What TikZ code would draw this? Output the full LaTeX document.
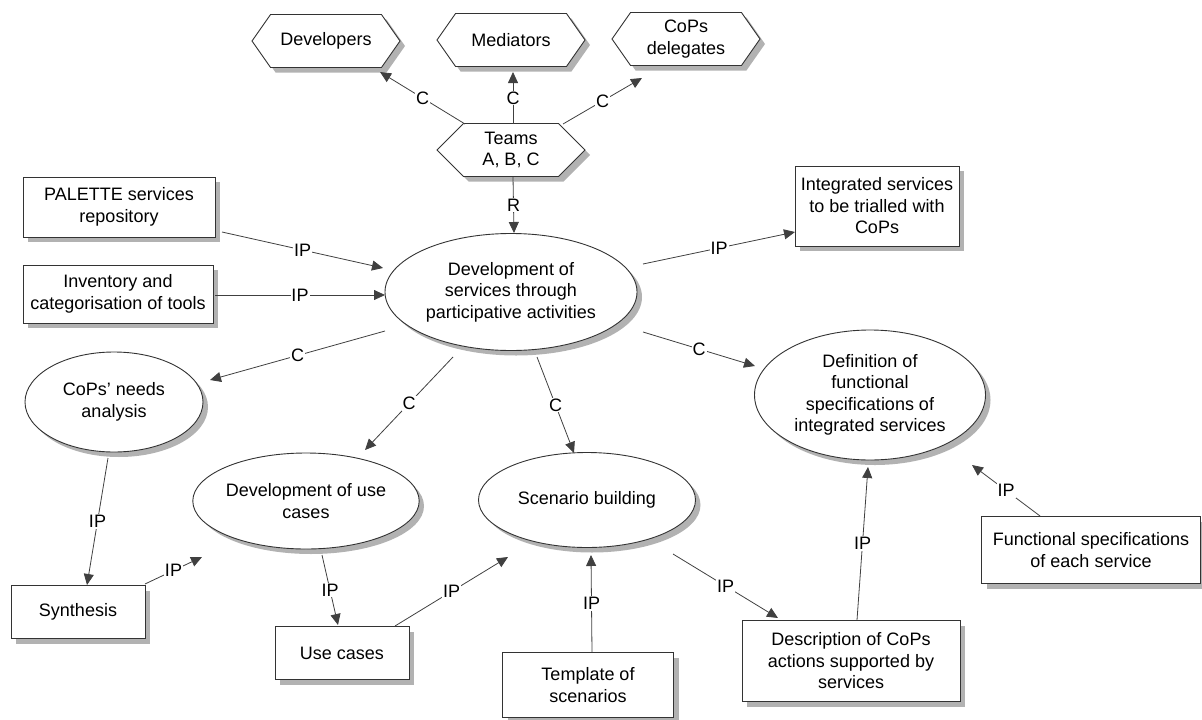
\documentclass[tikz,border=0pt]{standalone}
\usepackage{fontspec}
\setmainfont{Liberation Sans}
\usetikzlibrary{shapes.geometric,shapes.symbols,arrows.meta}
\definecolor{shadowc}{RGB}{178,178,178}
\begin{document}
\begin{tikzpicture}[x=1pt,y=-1pt,
 font=\fontsize{18}{21.5}\selectfont,
 box/.style={rectangle,draw=black!80,line width=0.9pt,fill=white,inner sep=0pt,align=center},
 ell/.style={ellipse,draw=black!80,line width=0.9pt,fill=white,inner sep=0pt,align=center},
 hex/.style={signal,signal to=east and west,signal pointer angle=110,draw=black!80,line width=0.9pt,fill=white,inner sep=0pt,align=center,minimum width=148pt,minimum height=53pt},
 shd/.style={fill=shadowc,draw=none},
 arr/.style={draw=black!75,line width=0.8pt,-{Triangle[length=11pt,width=10pt]}},
 lbl/.style={fill=white,inner sep=1pt}
]
\useasboundingbox (0,0) rectangle (1202,720);
% shadows (drawn first, offset down-right)
\node[hex,shd] at (331,46) {};
\node[hex,shd] at (516,45) {};
\node[hex,shd] at (691,44) {};
\node[hex,shd,signal pointer angle=90] at (516,155) {};
\node[box,shd,minimum width=192pt,minimum height=60pt] at (124,212) {};
\node[box,shd,minimum width=190pt,minimum height=58pt] at (123,299) {};
\node[box,shd,minimum width=164pt,minimum height=80pt] at (882,211) {};
\node[box,shd,minimum width=134pt,minimum height=53pt] at (83,617) {};
\node[box,shd,minimum width=134pt,minimum height=53pt] at (347,658) {};
\node[box,shd,minimum width=171pt,minimum height=65pt] at (593,690) {};
\node[box,shd,minimum width=218pt,minimum height=81pt] at (856,666) {};
\node[box,shd,minimum width=219pt,minimum height=67pt] at (1096,555) {};
\node[ell,shd,minimum width=252pt,minimum height=117pt] at (516,297) {};
\node[ell,shd,minimum width=178pt,minimum height=100pt] at (119,407) {};
\node[ell,shd,minimum width=226pt,minimum height=96pt] at (311,506) {};
\node[ell,shd,minimum width=217pt,minimum height=95pt] at (592,505) {};
\node[ell,shd,minimum width=231pt,minimum height=130pt] at (875,400) {};
% hexagons
\node[hex] (devs) at (326,41) {Developers};
\node[hex] (med) at (511,40) {Mediators};
\node[hex] (cops) at (686,39) {CoPs\\delegates};
\node[hex,signal pointer angle=90] (teams) at (511,150) {Teams\\A, B, C};
% boxes
\node[box,minimum width=192pt,minimum height=60pt] (pal) at (119,207) {PALETTE services\\repository};
\node[box,minimum width=190pt,minimum height=58pt] (inv) at (118,294) {Inventory and\\categorisation of tools};
\node[box,minimum width=164pt,minimum height=80pt] (integ) at (877,206) {Integrated services\\to be trialled with\\CoPs};
\node[box,minimum width=134pt,minimum height=53pt] (synth) at (78,612) {Synthesis};
\node[box,minimum width=134pt,minimum height=53pt] (usec) at (342,653) {Use cases};
\node[box,minimum width=171pt,minimum height=65pt] (templ) at (588,685) {Template of\\scenarios};
\node[box,minimum width=218pt,minimum height=81pt] (descr) at (851,661) {Description of CoPs\\actions supported by\\services};
\node[box,minimum width=219pt,minimum height=67pt] (funcs) at (1091,550) {Functional specifications\\of each service};
% ellipses
\node[ell,minimum width=252pt,minimum height=117pt] (dev) at (511,292) {Development of\\services through\\participative activities};
\node[ell,minimum width=178pt,minimum height=100pt] (needs) at (114,402) {CoPs' needs\\analysis};
\node[ell,minimum width=226pt,minimum height=96pt] (duc) at (306,501) {Development of use\\cases};
\node[ell,minimum width=217pt,minimum height=95pt] (scen) at (587,500) {Scenario building};
\node[ell,minimum width=231pt,minimum height=130pt] (defn) at (870,395) {Definition of\\functional\\specifications of\\integrated services};
% connectors
\draw[arr] ([shift={(-46,-26)}]teams.center) -- node[lbl]{C} ([shift={(54,31)}]devs.center);
\draw[arr] ([shift={(2,-26)}]teams.center) -- node[lbl]{C} ([shift={(2,32)}]med.center);
\draw[arr] ([shift={(52,-26)}]teams.center) -- node[lbl]{C} ([shift={(-44,39)}]cops.center);
\draw[arr] ([shift={(2,27)}]teams.center) -- node[lbl]{R} ([shift={(3,-59)}]dev.center);
\draw[arr] ([shift={(103,25)}]pal.center) -- node[lbl]{IP} ([shift={(-128,-24)}]dev.center);
\draw[arr] ([shift={(97,1)}]inv.center) -- node[lbl]{IP} ([shift={(-126,3)}]dev.center);
\draw[arr] ([shift={(132,-28)}]dev.center) -- node[lbl]{IP} ([shift={(-82,26)}]integ.center);
\draw[arr] ([shift={(-126,39)}]dev.center) -- node[lbl]{C} ([shift={(96,-22)}]needs.center);
\draw[arr] ([shift={(-58,65)}]dev.center) -- node[lbl]{C} ([shift={(59,-51)}]duc.center);
\draw[arr] ([shift={(26,65)}]dev.center) -- node[lbl]{C} ([shift={(-13,-47)}]scen.center);
\draw[arr] ([shift={(132,40)}]dev.center) -- node[lbl]{C} ([shift={(-115,-29)}]defn.center);
\draw[arr] ([shift={(-6,56)}]needs.center) -- node[lbl]{IP} ([shift={(9,-27)}]synth.center);
\draw[arr] ([shift={(67,-28)}]synth.center) -- node[lbl]{IP} ([shift={(-104,56)}]duc.center);
\draw[arr] ([shift={(16,54)}]duc.center) -- node[lbl]{IP} ([shift={(-4,-28)}]usec.center);
\draw[arr] ([shift={(53,-27)}]usec.center) -- node[lbl]{IP} ([shift={(-79,57)}]scen.center);
\draw[arr] ([shift={(4,-33)}]templ.center) -- node[lbl]{IP} ([shift={(4,55)}]scen.center);
\draw[arr] ([shift={(86,54)}]scen.center) -- node[lbl]{IP} ([shift={(-73,-43)}]descr.center);
\draw[arr] ([shift={(6,-41)}]descr.center) -- node[lbl]{IP} ([shift={(-2,72)}]defn.center);
\draw[arr] ([shift={(-51,-34)}]funcs.center) -- node[lbl]{IP} ([shift={(102,70)}]defn.center);
\end{tikzpicture}
\end{document}
